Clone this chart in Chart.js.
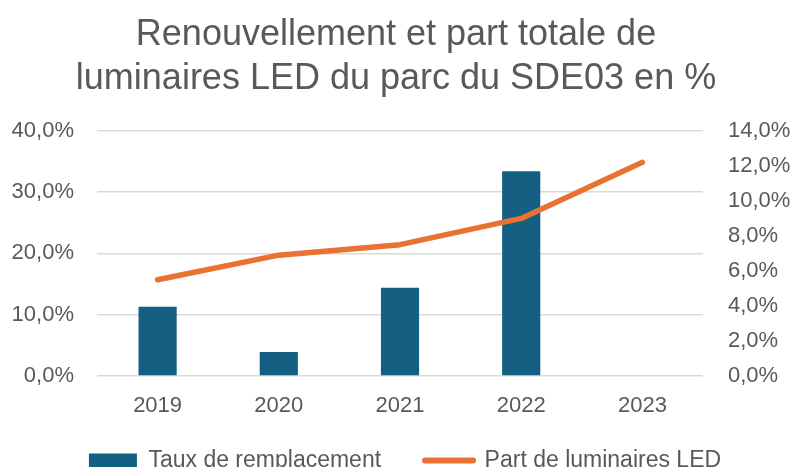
<!DOCTYPE html>
<html>
<head>
<meta charset="utf-8">
<script src="https://cdn.jsdelivr.net/npm/chart.js@4/dist/chart.umd.min.js"></script>
<style>
    html, body { margin: 0; padding: 0; background: #fff; overflow: hidden; }
    #wrap { width: 792px; height: 497px; position: relative; }
</style>
</head>
<body>
<div id="wrap"><canvas id="chart"></canvas></div>
<script>
const years = ['2019', '2020', '2021', '2022', '2023'];
const tauxRemplacement = [11.3, 3.9, 14.4, 33.4, null];
const partLed = [5.5, 6.9, 7.5, 9.0, 12.2];
const titleLines = ['Renouvellement et part totale de', 'luminaires LED du parc du SDE03 en %'];

const grey = '#595959';
const blue = '#156082';
const orange = '#E97132';

function pct(value) {
    return value.toFixed(1).replace('.', ',') + '%';
}

// nudge the legend row up/right so it sits where the original one is
const legendNudge = {
    id: 'legendNudge',
    afterLayout(chart) {
        const lg = chart.legend;
        lg.top -= 15;
        lg.bottom -= 15;
        lg.left += 9;
        lg.right += 9;
    }
};

Chart.defaults.font.family = "'Liberation Sans', Arial, sans-serif";
Chart.defaults.color = grey;

const ctx = document.getElementById('chart').getContext('2d');
new Chart(ctx, {
    type: 'bar',
    data: {
        labels: years,
        datasets: [{
            label: 'Taux de remplacement',
            data: tauxRemplacement,
            backgroundColor: blue,
            borderWidth: 0,
            barPercentage: 0.315,
            categoryPercentage: 1,
            yAxisID: 'y',
            order: 2
        }, {
            label: 'Part de luminaires LED',
            data: partLed,
            type: 'line',
            borderColor: orange,
            backgroundColor: orange,
            borderWidth: 5.5,
            borderCapStyle: 'round',
            borderJoinStyle: 'round',
            pointRadius: 0,
            tension: 0,
            yAxisID: 'y1',
            order: 1
        }]
    },
    options: {
        responsive: true,
        maintainAspectRatio: false,
        animation: false,
        layout: { padding: 0 },
        scales: {
            x: {
                grid: { display: false, drawTicks: false },
                border: { display: false },
                ticks: { font: { size: 22 }, color: grey, padding: 17 },
                afterFit: scale => { scale.height = 44; }
            },
            y: {
                position: 'left',
                min: 0,
                max: 40,
                ticks: {
                    stepSize: 10,
                    font: { size: 22 },
                    color: grey,
                    padding: 23,
                    callback: v => pct(v)
                },
                grid: { color: '#d9d9d9', lineWidth: 1.5, drawTicks: false },
                border: { display: false },
                afterFit: scale => { scale.width = 97; }
            },
            y1: {
                position: 'right',
                min: 0,
                max: 14,
                ticks: {
                    stepSize: 2,
                    font: { size: 22 },
                    color: grey,
                    padding: 25,
                    callback: v => pct(v)
                },
                grid: { display: false, drawTicks: false },
                border: { display: false },
                afterFit: scale => { scale.width = 89; }
            }
        },
        plugins: {
            title: {
                display: true,
                text: titleLines,
                color: grey,
                font: { size: 36, weight: 'normal', lineHeight: 1.22 },
                padding: { top: 13, bottom: 30 }
            },
            legend: {
                position: 'bottom',
                labels: {
                    usePointStyle: true,
                    pointStyleWidth: 48,
                    boxHeight: 14,
                    padding: 44,
                    color: grey,
                    font: { size: 23 },
                    sort: (a, b) => a.datasetIndex - b.datasetIndex,
                    generateLabels: chart => {
                        const items = Chart.defaults.plugins.legend.labels.generateLabels(chart);
                        items.forEach(item => {
                            if (item.datasetIndex === 0) {
                                item.pointStyle = 'rect';
                                item.lineWidth = 0;
                                item.fillStyle = blue;
                            } else {
                                item.pointStyle = 'line';
                                item.lineWidth = 6;
                                item.strokeStyle = orange;
                                item.lineCap = 'round';
                            }
                        });
                        return items;
                    }
                }
            },
            tooltip: { enabled: false }
        }
    },
    plugins: [legendNudge]
});
</script>
</body>
</html>
